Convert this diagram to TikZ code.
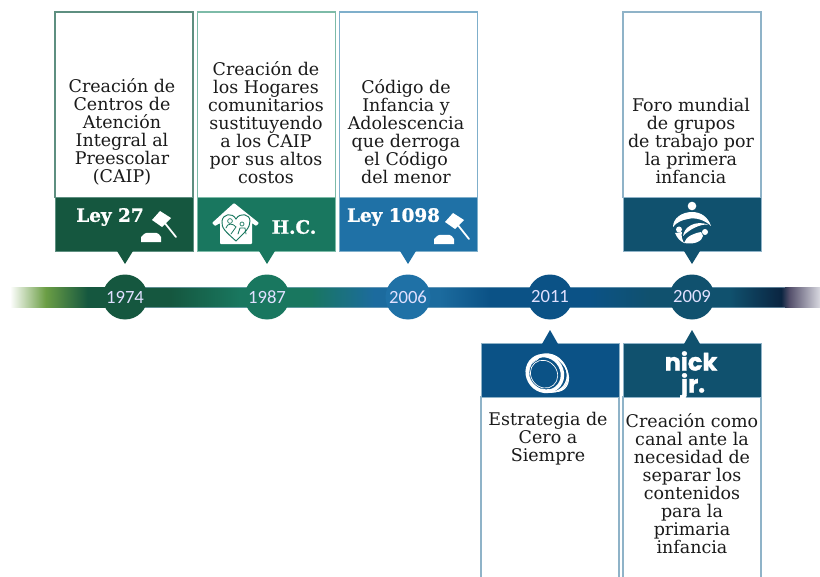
\documentclass[tikz,border=0pt]{standalone}
\usepackage{fontspec}
\setmainfont{DejaVu Serif}
\newfontfamily\yearfont{Carlito}
\newfontfamily\nickfont[FakeBold=1.5]{Poppins}
\newfontfamily\logofont[FakeBold=1.2]{DejaVu Serif}
\definecolor{cA}{HTML}{15573F}
\definecolor{cB}{HTML}{19775F}
\definecolor{cC}{HTML}{1F71A6}
\definecolor{cD}{HTML}{0B5286}
\definecolor{cE}{HTML}{10516E}
\definecolor{edgeA}{HTML}{5E8F80}
\definecolor{edgeB}{HTML}{7DBBA8}
\definecolor{edgeC}{HTML}{7FAFCB}
\definecolor{edgeblue}{HTML}{8FB3C8}
\definecolor{ink}{HTML}{1A1A1A}
\pgfdeclarehorizontalshading{barshade}{100bp}{
 color(0bp)=(white); color(25bp)=(white);
 rgb(27.2bp)=(.42,.62,.27);
 rgb(29.8bp)=(.082,.341,.247);
 rgb(34.9bp)=(.082,.341,.247);
 rgb(39.2bp)=(.098,.467,.373);
 rgb(43.5bp)=(.098,.467,.373);
 rgb(47.5bp)=(.11,.42,.62);
 rgb(51.5bp)=(.11,.42,.62);
 rgb(54.6bp)=(.043,.322,.525);
 rgb(60.8bp)=(.043,.322,.525);
 rgb(64.5bp)=(.063,.318,.431);
 rgb(69.4bp)=(.063,.318,.431);
 rgb(72.6bp)=(.04,.145,.255);
 rgb(73.1bp)=(.33,.31,.42);
 rgb(75bp)=(.85,.85,.88);
 color(100bp)=(white)
}
\tikzset{
 x=0.75pt,y=-0.75pt,
 bodybox/.style={line width=0.9pt,fill=white,anchor=north west,inner sep=0,outer sep=0},
 headbox/.style={line width=0.5pt,anchor=north west,inner sep=0,outer sep=0},
 caption/.style={align=center,text=ink,font=\fontsize{13.1}{13.5}\selectfont,inner sep=0},
 yeardot/.style={circle,minimum size=33.75pt,inner sep=0,text=white!88!blue,font=\yearfont\fontsize{14}{14}\selectfont},
 logotext/.style={text=white,font=\logofont\bfseries\fontsize{13.8}{13.8}\selectfont,inner sep=0},
 gavel/.pic={
  \fill[white] (-8,-2) -- (0,-11) -- (11,-4) -- (2,5) -- cycle;
  \draw[white,line width=1.3pt,line cap=round] (4,0) -- (16,15);
  \fill[white] (-19,20) -- (-19,15) [rounded corners=1pt] -- (-15,11) -- (-2,11) [sharp corners] -- (1,15) -- (1,20) -- cycle;
 }
}
\begin{document}
\begin{tikzpicture}
\clip (0,0) rectangle (820,577);
\fill[white] (0,0) rectangle (820,577);
% bar
\shade[shading=barshade] (10,287) rectangle (820,307);
\draw[edgeblue,line width=0.4pt,opacity=.6] (105,287) -- (785,287) (105,307) -- (785,307);
% top boxes
\foreach \n/\x/\c/\e in {1/55/cA/edgeA,2/197.5/cB/edgeB,3/339.5/cC/edgeC,5/623/cE/edgeblue}{
  \node[bodybox,draw=\e,minimum width=103.5pt,minimum height=139pt] (body\n) at (\x,12) {};
  \node[headbox,draw=\e,fill=\c,minimum width=103.5pt,minimum height=40.5pt] (head\n) at (\x,197) {};
}
% bottom boxes
\foreach \n/\x/\c in {4/481/cD,6/623/cE}{
  \node[bodybox,draw=edgeblue,minimum width=103.5pt,minimum height=142pt] (body\n) at (\x,397) {};
  \node[headbox,draw=edgeblue,fill=\c,minimum width=103.5pt,minimum height=40.5pt] (head\n) at (\x,343) {};
}
% dots
\node[yeardot,fill=cA] (y1) at (125,297) {1974};
\node[yeardot,fill=cB] (y2) at (267,297) {1987};
\node[yeardot,fill=cC] (y3) at (408,297) {2006};
\node[yeardot,fill=cD] (y4) at (550,297) {2011};
\node[yeardot,fill=cE] (y5) at (692,297) {2009};
% pointers
\fill[cA] (117,251) -- (125,264) -- (133,251) -- cycle;
\fill[cB] (259,251) -- (267,264) -- (275,251) -- cycle;
\fill[cC] (400,251) -- (408,264) -- (416,251) -- cycle;
\fill[cE] (684,251) -- (692,264) -- (700,251) -- cycle;
\fill[cD] (542,344) -- (550,330) -- (558,344) -- cycle;
\fill[cE] (684,344) -- (692,330) -- (700,344) -- cycle;
% captions
\node[caption] (t1) at (122,131.7) {Creación de\\Centros de\\Atención\\Integral al\\Preescolar\\(CAIP)};
\node[caption] (t2) at (266,122.7) {Creación de\\los Hogares\\comunitarios\\sustituyendo\\a los CAIP\\por sus altos\\costos};
\node[caption] (t3) at (406,131.7) {Código de\\Infancia y\\Adolescencia\\que derroga\\el Código\\del menor};
\node[caption] (t5) at (691,140.7) {Foro mundial\\de grupos\\de trabajo por\\la primera\\infancia};
\node[caption] (t4) at (548,438.7) {Estrategia de\\Cero a\\Siempre};
\node[caption] (t6) at (692,483.7) {Creación como\\canal ante la\\necesidad de\\separar los\\contenidos\\para la\\primaria\\infancia};
% logo texts
\node[logotext] (l1) at (110,217) {Ley 27};
\node[logotext] (l2) at (294,227) {H.C.};
\node[logotext] (l3) at (393.5,217) {Ley 1098};
\pic at (160,222) {gavel};
\pic at (453,224) {gavel};
% house
\fill[white,rounded corners=.6pt] (234,203) -- (259,223) -- (256,226) -- (252,223) -- (252,244) -- (220,244) -- (220,223) -- (215,226) -- (212,223) -- cycle;
\draw[cB,line width=0.7pt,fill=white] (236,241) .. controls (226,232) and (221,228) .. (222,221) .. controls (223,214) and (232,212) .. (236,219) .. controls (240,212) and (250,214) .. (250,221) .. controls (250,228) and (245,232) .. (236,241) -- cycle;
\draw[cB,line width=0.5pt,fill=white] (230,221) circle[radius=2.4];
\draw[cB,line width=0.5pt,fill=white] (242,224) circle[radius=2];
\draw[cB,line width=0.6pt,line cap=round] (226,228) .. controls (227,223) and (233,223) .. (236,227) -- (231,234) (238,234) -- (240,228) -- (245,228) -- (246,234);
% people logo
\fill[white] (692,206) circle[radius=4.3];
\fill[white] (673,227) .. controls (673,218) and (682,212) .. (692,212) .. controls (701,212) and (708,217) .. (711,226) .. controls (705,220) and (695,217) .. (688,219) .. controls (682,220) and (677,222) .. (673,227) -- cycle;
\fill[white] (679,229.5) circle[radius=3];
\fill[white] (705,232) circle[radius=3];
\fill[white] (683,236) .. controls (684,227) and (695,220) .. (708,224.5) .. controls (700,224) and (690,229) .. (683,236) -- cycle;
\fill[white] (684,243) .. controls (686,236) and (695,233) .. (701,232) -- (703,236) .. controls (702,241) and (695,245) .. (684,243) -- cycle;
\fill[white] (675,233) .. controls (677,238) and (680,241) .. (684,243) .. controls (682,239) and (681,236) .. (682,232) -- cycle;
% rings logo
\begin{scope}[rotate around={-50:(547,373)}]
\draw[white,line width=0.9pt] (550,370) ellipse[x radius=20,y radius=15];
\draw[white,line width=0.9pt] (549,371) ellipse[x radius=20,y radius=16.5];
\draw[white,line width=0.9pt] (548,372) ellipse[x radius=20,y radius=18];
\draw[white,line width=2.6pt] (546,375) ellipse[x radius=18.5,y radius=17];
\fill[cD] (546,376) ellipse[x radius=15.5,y radius=14];
\draw[white,line width=0.5pt] (546,376) ellipse[x radius=14.5,y radius=13];
\end{scope}
% nick jr
\node[text=white,inner sep=0,font=\nickfont\bfseries\fontsize{18}{18}\selectfont] (n1) at (691,361) {nick};
\node[text=white,inner sep=0,font=\nickfont\bfseries\fontsize{18}{18}\selectfont] (n2) at (693,386) {jr.};
\end{tikzpicture}
\end{document}
